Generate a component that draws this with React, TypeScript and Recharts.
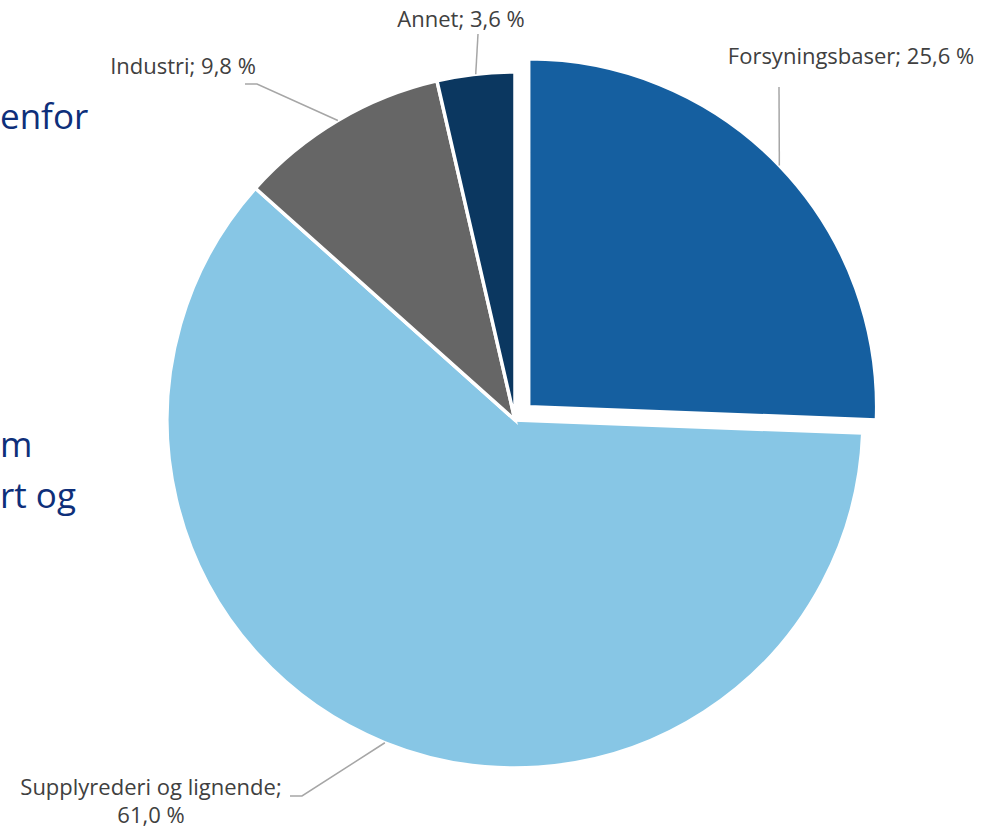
import { PieChart, Pie, Cell } from 'recharts';

const categories = ['Forsyningsbaser', 'Supplyrederi og lignende', 'Industri', 'Annet'];
const shares = [25.6, 61.0, 9.8, 3.6];
const colors = ['#155FA0', '#87C6E5', '#666666', '#0B3760'];

// the exploded slice
const EXPLODED = 'Forsyningsbaser';

const data = categories.map((name, i) => ({ name, value: shares[i] }));

const CX = 515;
const CY = 420;
const RADIUS = 348;
const EXPLODE_DIST = 19;

// label placement (elbow point, text centre, text lines)
const labelLayout: Record<string, { elbow: [number, number][]; tx: number; ty: number; lines: (v: string) => string[] }> = {
    Forsyningsbaser: { elbow: [[779, 87]], tx: 851, ty: 64, lines: (v) => [`Forsyningsbaser; ${v}`] },
    Annet: { elbow: [[478, 34]], tx: 461, ty: 27, lines: (v) => [`Annet; ${v}`] },
    Industri: { elbow: [[257, 84], [245, 84]], tx: 183, ty: 74, lines: (v) => [`Industri; ${v}`] },
    'Supplyrederi og lignende': {
        elbow: [[302, 796], [290, 796]],
        tx: 151,
        ty: 795,
        lines: (v) => ['Supplyrederi og lignende;', v],
    },
};

const RAD = Math.PI / 180;
const fmt = (v: number) => `${v.toFixed(1).replace('.', ',')} %`;

function makeLabel(show: (name: string) => boolean) {
    return (props: any) => {
        const { cx, cy, midAngle, outerRadius, name, value } = props;
        if (!show(name)) return null;
        const layout = labelLayout[name];
        const ax = cx + outerRadius * Math.cos(-midAngle * RAD);
        const ay = cy + outerRadius * Math.sin(-midAngle * RAD);
        const pts = [[ax, ay], ...layout.elbow].map((p) => p.join(',')).join(' ');
        return (
            <g>
                <polyline points={pts} fill="none" stroke="#A6A6A6" strokeWidth={1.5} />
                {layout.lines(fmt(value)).map((line, i) => (
                    <text
                        key={i}
                        x={layout.tx}
                        y={layout.ty + i * 28}
                        textAnchor="middle"
                        fill="#404040"
                        fontSize={22}
                        fontFamily="'Open Sans', sans-serif"
                    >
                        {line}
                    </text>
                ))}
            </g>
        );
    };
}

function App() {
    const explodedIdx = categories.indexOf(EXPLODED);
    const total = shares.reduce((a, b) => a + b, 0);
    const before = shares.slice(0, explodedIdx).reduce((a, b) => a + b, 0);
    const mid = ((before + shares[explodedIdx] / 2) / total) * 360; // clockwise from top
    const ox = CX + EXPLODE_DIST * Math.sin(mid * RAD);
    const oy = CY - EXPLODE_DIST * Math.cos(mid * RAD);

    return (
        <div style={{ position: 'absolute', left: 0, top: 0, width: 999, height: 830, background: '#fff' }}>
            <PieChart width={999} height={830} margin={{ top: 0, right: 0, bottom: 0, left: 0 }}>
                <Pie
                    data={data}
                    dataKey="value"
                    nameKey="name"
                    cx={CX}
                    cy={CY}
                    outerRadius={RADIUS}
                    startAngle={90}
                    endAngle={-270}
                    labelLine={false}
                    label={makeLabel((n) => n !== EXPLODED)}
                    isAnimationActive={false}
                >
                    {data.map((entry, index) => (
                        <Cell
                            key={`cell-${index}`}
                            fill={entry.name === EXPLODED ? 'none' : colors[index]}
                            stroke={entry.name === EXPLODED ? 'none' : '#fff'}
                            strokeWidth={3.5}
                        />
                    ))}
                </Pie>
                <Pie
                    data={data}
                    dataKey="value"
                    nameKey="name"
                    cx={ox}
                    cy={oy}
                    outerRadius={RADIUS}
                    startAngle={90}
                    endAngle={-270}
                    labelLine={false}
                    label={makeLabel((n) => n === EXPLODED)}
                    isAnimationActive={false}
                >
                    {data.map((entry, index) => (
                        <Cell
                            key={`cell-x-${index}`}
                            fill={entry.name === EXPLODED ? colors[index] : 'none'}
                            stroke={entry.name === EXPLODED ? '#fff' : 'none'}
                            strokeWidth={3.5}
                        />
                    ))}
                </Pie>
                {/* fragments of slide text partly hidden behind the chart */}
                <g fill="#0E2F7A" fontSize={35} fontFamily="'Open Sans', sans-serif" textAnchor="start">
                    <text x={0} y={129}>enfor</text>
                    <text x={0} y={457}>m</text>
                    <text x={0} y={508}>rt og</text>
                </g>
            </PieChart>
        </div>
    );
}

export default App;
